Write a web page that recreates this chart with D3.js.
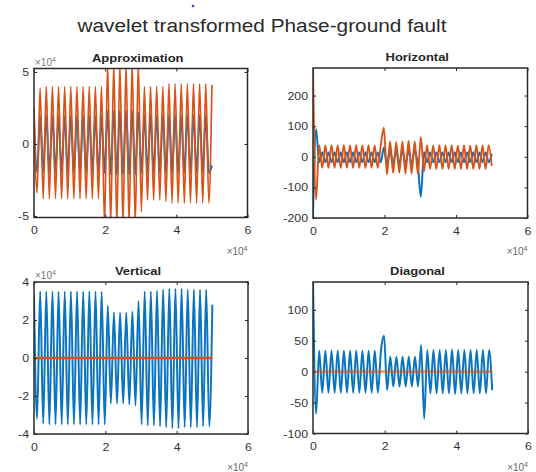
<!DOCTYPE html>
<html>
<head>
<meta charset="utf-8">
<script src="https://cdn.jsdelivr.net/npm/d3@7"></script>
<style>
  body { margin: 0; background: #fff; }
  svg { display: block; }
  text { font-family: "Liberation Sans", Arial, sans-serif; }
</style>
</head>
<body>
<svg id="fig" width="536" height="472"></svg>
<script>
// ---- data -------------------------------------------------------------
// Each series lists its successive extrema, evenly spaced over 0..sampleEnd samples.
const sampleEnd = 50000;

const xTicks = [0, 20000, 40000, 60000];
const approxTicks = [-5, 0, 5];
const horizTicks = [-200, -100, 0, 100, 200];
const vertTicks = [-4, -2, 0, 2, 4];
const diagTicks = [-100, -50, 0, 50, 100];

// Approximation coefficients (x 1e4)
const approxBlue = [
  1.5, -1.9, 1.95, -1.95, 1.95, -1.95, 1.95, -1.95, 1.95, -1.95, 1.95, -1.95,
  1.95, -1.95, 1.95, -1.95, 1.95, -1.95, 1.95, -1.95, 1.95, -1.95, 1.95, -2.0,
  2.3, -2.1, 2.3, -2.1, 2.3, -2.1, 2.3, -2.1, 2.3, -2.1, 2.2,
  -2.0, 2.0, -2.0, 2.0, -2.0, 2.0, -2.0, 2.0, -2.0, 2.0, -2.0, 2.0,
  -2.0, 2.0, -2.0, 2.0, -2.0, 2.0, -2.0, 2.0, -2.0, 2.0, -2.0, -1.5
];
const approxOrange = [
  2.6, -3.4, 3.9, -3.8, 4.0, -3.8, 4.0, -3.8, 4.0, -3.8, 4.0, -3.8,
  4.0, -3.8, 4.0, -3.8, 4.0, -3.8, 4.0, -3.8, 4.0, -3.8, 4.0, -5.6,
  5.6, -5.6, 5.6, -5.6, 5.6, -5.6, 5.6, -5.6, 5.6, -5.6, 5.6,
  -4.7, 4.0, -3.9, 4.0, -3.9, 4.0, -3.9, 4.0, -4.0, 4.2, -4.1, 4.2,
  -4.1, 4.2, -4.1, 4.2, -4.1, 4.2, -4.1, 4.2, -4.1, 4.2, -4.1, 4.1
];

// Horizontal detail coefficients
const horizBlue = [
  -190, 90, -18, 14, -18, 14, -18, 14, -18, 14, -18, 14,
  -18, 14, -18, 14, -18, 14, -18, 14, -18, 14, -18, 30,
  -25, 22, -25, 22, -25, 22, -25, 22, -25, 22, -25,
  -130, 15, -18, 14, -18, 14, -18, 14, -18, 14, -18, 14,
  -18, 14, -18, 14, -18, 14, -18, 14, -18, 14, -18, 10
];
const horizOrange = [
  300, -140, 38, -36, 37, -37, 38, -36, 37, -37, 38, -36,
  37, -37, 38, -36, 37, -37, 38, -36, 37, -37, 38, 95,
  -58, 50, -52, 48, -52, 50, -55, 52, -55, 50, -55,
  64, -48, 38, -40, 37, -40, 38, -40, 37, -40, 38, -40,
  37, -40, 38, -40, 37, -40, 38, -40, 37, -40, 38, -30
];

// Vertical detail coefficients (x 1e4)
const vertBlue = [
  3.3, -3.2, 3.5, -3.45, 3.5, -3.5, 3.5, -3.5, 3.5, -3.5, 3.5, -3.5,
  3.5, -3.5, 3.5, -3.5, 3.5, -3.5, 3.5, -3.5, 3.5, -3.5, 3.5, -3.5,
  2.75, -2.4, 2.4, -2.4, 2.4, -2.4, 2.4, -2.45, 2.45, -2.5, 3.0,
  -3.5, 3.5, -3.55, 3.5, -3.55, 3.55, -3.6, 3.6, -3.65, 3.65, -3.7, 3.65,
  -3.7, 3.65, -3.65, 3.6, -3.65, 3.6, -3.65, 3.6, -3.6, 3.6, -3.6, 2.8
];
const vertOrange = [0, 0];

// Diagonal detail coefficients
const diagBlue = [
  150, -68, 34, -34, 34, -34, 34, -34, 34, -34, 34, -34,
  34, -34, 34, -34, 34, -34, 34, -34, 34, -34, 34, 58,
  -30, 24, -24, 24, -24, 24, -24, 24, -24, 24, -24,
  43, -76, 35, -35, 35, -35, 35, -35, 35, -35, 36, -36,
  35, -35, 35, -35, 35, -35, 35, -35, 35, -35, 35, -30
];
const diagOrange = [0, 0];

// ---- drawing ----------------------------------------------------------
const BLUE = "#0a74bf";
const ORANGE = "#D95319";
const svg = d3.select("#fig");

// Stretch text horizontally by factor k (keeps anchor behaviour)
function stretch(sel, k) {
  sel.each(function () {
    const len = this.getComputedTextLength();
    if (len > 0) {
      d3.select(this).attr("textLength", len * k).attr("lengthAdjust", "spacingAndGlyphs");
    }
  });
}

// figure title
const title = svg.append("text")
  .attr("x", 262).attr("y", 31.5)
  .attr("text-anchor", "middle")
  .attr("font-size", 18)
  .attr("fill", "#2a2a2a")
  .text("wavelet transformed Phase-ground fault");
title.attr("textLength", 369).attr("lengthAdjust", "spacingAndGlyphs");

svg.append("circle").attr("cx", 193).attr("cy", 6).attr("r", 1.3).attr("fill", "#3a3af2");

const panels = [
  { name: "Approximation", x0: 34, x1: 247.5, y0: 68.5, y1: 217.5, yDomain: [-5.1, 5.24],
    yTicks: approxTicks, blue: approxBlue, orange: approxOrange, yExp: true,
    orangeWidth: 1.7, orangeOpacity: 1 },
  { name: "Horizontal", x0: 313, x1: 527.5, y0: 68, y1: 218, yDomain: [-200, 290],
    yTicks: horizTicks, blue: horizBlue, orange: horizOrange, yExp: false,
    orangeWidth: 1.9, orangeOpacity: 1 },
  { name: "Vertical", x0: 34, x1: 248, y0: 282, y1: 434, yDomain: [-4, 4],
    yTicks: vertTicks, blue: vertBlue, orange: vertOrange, yExp: true,
    orangeWidth: 2.4, orangeOpacity: 1 },
  { name: "Diagonal", x0: 313, x1: 528, y0: 282, y1: 433.5, yDomain: [-100, 145],
    yTicks: diagTicks, blue: diagBlue, orange: diagOrange, yExp: false,
    orangeWidth: 2.8, orangeOpacity: 0.6 }
];

const toPoints = vals => vals.map((v, i) => [i * sampleEnd / (vals.length - 1), v]);
const fmt = d => String(d);

panels.forEach((p, idx) => {
  const x = d3.scaleLinear().domain([0, 60000]).range([p.x0, p.x1]);
  const y = d3.scaleLinear().domain(p.yDomain).range([p.y1, p.y0]);
  const g = svg.append("g");

  const clipId = "clip" + idx;
  svg.append("clipPath").attr("id", clipId)
    .append("rect").attr("x", p.x0).attr("y", p.y0)
    .attr("width", p.x1 - p.x0).attr("height", p.y1 - p.y0);

  const line = d3.line()
    .x(d => x(d[0])).y(d => y(d[1]))
    .curve(d3.curveMonotoneX);

  const plot = g.append("g").attr("clip-path", `url(#${clipId})`);
  plot.append("path").attr("d", line(toPoints(p.blue)))
    .attr("fill", "none").attr("stroke", BLUE).attr("stroke-width", 2)
    .attr("stroke-linejoin", "round");
  plot.append("path").attr("d", line(toPoints(p.orange)))
    .attr("fill", "none").attr("stroke", ORANGE).attr("stroke-width", p.orangeWidth)
    .attr("stroke-opacity", p.orangeOpacity)
    .attr("stroke-linejoin", "round");

  // axes (ticks inside on all four sides)
  const axB = g.append("g").attr("transform", `translate(0,${p.y1})`)
    .call(d3.axisBottom(x).tickValues(xTicks).tickSize(-3).tickPadding(9).tickFormat(d => fmt(d / 1e4)));
  const axT = g.append("g").attr("transform", `translate(0,${p.y0})`)
    .call(d3.axisTop(x).tickValues(xTicks).tickSize(-3).tickFormat(""));
  const axL = g.append("g").attr("transform", `translate(${p.x0},0)`)
    .call(d3.axisLeft(y).tickValues(p.yTicks).tickSize(-3).tickPadding(5).tickFormat(fmt));
  const axR = g.append("g").attr("transform", `translate(${p.x1},0)`)
    .call(d3.axisRight(y).tickValues(p.yTicks).tickSize(-3).tickFormat(""));

  [axB, axT, axL, axR].forEach(a => {
    a.select(".domain").remove();
    a.selectAll("line").attr("stroke", "#262626").attr("stroke-width", 1);
    a.selectAll("text").attr("font-size", 11).attr("fill", "#333")
      .attr("font-family", "\"Liberation Sans\", Arial, sans-serif");
  });
  stretch(axB.selectAll("text"), 1.12);
  stretch(axL.selectAll("text"), 1.12);

  // frame
  g.append("rect").attr("x", p.x0).attr("y", p.y0)
    .attr("width", p.x1 - p.x0).attr("height", p.y1 - p.y0)
    .attr("fill", "none").attr("stroke", "#2b2b2b").attr("stroke-width", 1.5);

  // panel title
  const t = g.append("text")
    .attr("x", (p.x0 + p.x1) / 2 - 3).attr("y", p.y0 - 7)
    .attr("text-anchor", "middle").attr("font-size", 11).attr("font-weight", "bold")
    .attr("fill", "#262626").text(p.name);
  stretch(t, 1.18);

  // x exponent
  const ex = g.append("text").attr("x", p.x1).attr("y", p.y1 + 37)
    .attr("text-anchor", "end").attr("font-size", 10).attr("fill", "#666");
  ex.append("tspan").text("\u00d710");
  ex.append("tspan").attr("dy", -4).attr("font-size", 7).text("4");

  // y exponent
  if (p.yExp) {
    const ey = g.append("text").attr("x", p.x0 + 1).attr("y", p.y0 - 3)
      .attr("text-anchor", "start").attr("font-size", 10).attr("fill", "#777");
    ey.append("tspan").text("\u00d710");
    ey.append("tspan").attr("dy", -4).attr("font-size", 7).text("4");
  }
});
</script>
</body>
</html>
